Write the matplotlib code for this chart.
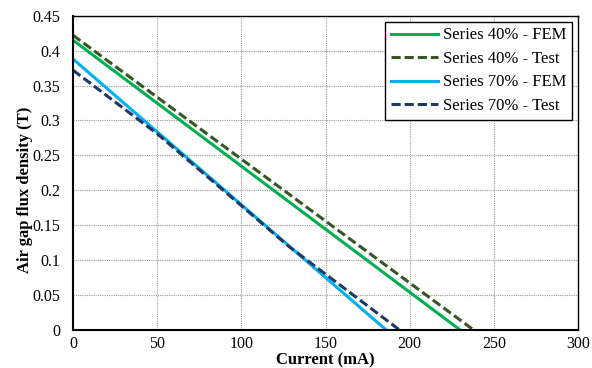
import numpy as np
import matplotlib
matplotlib.use("Agg")
import matplotlib.pyplot as plt

plt.rcParams['font.family'] = ['Liberation Serif', 'DejaVu Serif']

# data
fem40_x = [0, 230]
fem40_y = [0.415, 0.0]
test40_x = [0, 238]
test40_y = [0.422, 0.0]
fem70_x = [0, 186]
fem70_y = [0.388, 0.0]
test70_x = [0, 50, 100, 128, 194]
test70_y = [0.372, 0.281, 0.178, 0.120, 0.0]

fig = plt.figure(figsize=(5.92, 3.68), dpi=100)
ax = fig.add_axes([0.1233, 0.1033, 0.8531, 0.854])

ax.plot(fem40_x, fem40_y, color='#00B050', lw=2.2, label='Series 40% - FEM')
ax.plot(test40_x, test40_y, color='#375623', lw=2.2, ls=(0, (3, 1.3)), label='Series 40% - Test')
ax.plot(fem70_x, fem70_y, color='#00B0F0', lw=2.2, label='Series 70% - FEM')
ax.plot(test70_x, test70_y, color='#1F3864', lw=2.2, ls=(0, (3, 1.3)), label='Series 70% - Test')

ax.set_xlim(0, 300)
ax.set_ylim(0, 0.45)
ax.set_xticks(np.arange(0, 301, 50))
ax.set_yticks(np.arange(0, 0.451, 0.05))
ax.set_yticklabels(['0', '0.05', '0.1', '0.15', '0.2', '0.25', '0.3', '0.35', '0.4', '0.45'])
ax.tick_params(length=0, labelsize=11.5)
ax.tick_params(axis='x', pad=4.5)
ax.tick_params(axis='y', pad=9)
ax.grid(True, color='#9a9a9a', ls=(0, (1, 1)), lw=0.8)

for s in ['left', 'bottom']:
    ax.spines[s].set_linewidth(1.5)
for s in ['top', 'right']:
    ax.spines[s].set_linewidth(1.0)

ax.set_xlabel('Current (mA)', fontsize=12, fontweight='bold', labelpad=0)
ax.set_ylabel('Air gap flux density (T)', fontsize=12, fontweight='bold')
ax.yaxis.set_label_coords(-0.08, 0.445)

leg = ax.legend(loc='upper right', fontsize=12, fancybox=False, framealpha=1,
                edgecolor='black', borderaxespad=0.35, handlelength=2.8,
                handletextpad=0.3, labelspacing=0.45, borderpad=0.35)
leg.get_frame().set_linewidth(1.0)

fig.savefig('out.png', dpi=100)
